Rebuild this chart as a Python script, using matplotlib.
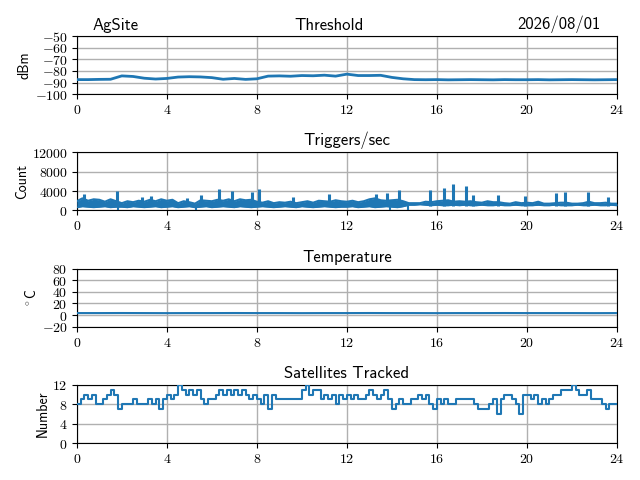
import matplotlib
matplotlib.use('Agg')
import matplotlib.pyplot as plt
from matplotlib.ticker import FuncFormatter

plt.rcParams['mathtext.fontset'] = 'cm'
plt.rcParams['font.family'] = ['cmss10', 'DejaVu Sans']

# threshold, every half hour (dBm)
thr_hours = [i * 0.5 for i in range(49)]
threshold = [-87.5, -87.5, -87.3, -87.2, -84.3, -84.8, -86.3, -87.0, -86.5, -85.3,
             -85.0, -85.2, -85.8, -87.2, -86.5, -87.3, -86.8, -84.5, -84.3, -84.6,
             -84.0, -84.2, -83.7, -84.5, -82.8, -84.0, -84.0, -83.8, -85.6, -86.8,
             -87.5, -87.6, -87.5, -87.7, -87.6, -87.5, -87.6, -87.7, -87.5, -87.6,
             -87.6, -87.5, -87.7, -87.6, -87.5, -87.6, -87.7, -87.6, -87.5]

# triggers per second: band top and bottom every 15 minutes
band_hours = [i * 0.25 for i in range(97)]
band_hi = [1900, 2500, 2000, 2300, 2200, 1800, 2300, 1900,
           1500, 1900, 1700, 2000, 1800, 2200, 1900, 2300,
           2000, 2200, 1500, 1900, 1700, 1400, 2100, 2000,
           1900, 2200, 2000, 2300, 1900, 2300, 2100, 2200,
           1800, 1600, 1900, 1500, 1700, 1600, 1800, 1500,
           1700, 1900, 1600, 2000, 1900, 1800, 2100, 1900,
           1800, 2000, 1700, 1900, 2300, 2500, 2100, 2000,
           2100, 2200, 1900, 1500, 1500, 1500, 1800, 1700,
           1900, 2000, 2100, 1800, 1900, 1800, 1900, 1700,
           1600, 1900, 1700, 1700, 1500, 1400, 1700, 1500,
           1600, 1500, 1800, 1400, 1400, 1500, 1600, 1600,
           1400, 1400, 1500, 1800, 1500, 1500, 1600, 1400, 1400]
band_lo = [600, 800, 700, 600, 700, 800, 600, 700,
           700, 600, 800, 700, 600, 700, 800, 600,
           700, 800, 600, 700, 800, 600, 700, 800,
           600, 700, 800, 700, 600, 800, 700, 600,
           700, 800, 700, 600, 700, 800, 700, 600,
           800, 700, 600, 700, 800, 700, 600, 700,
           700, 800, 600, 700, 800, 600, 700, 800,
           700, 600, 800, 1100, 1100, 1200, 1100, 1000,
           1100, 1000, 1000, 1100, 1000, 1100, 1000, 1000,
           1100, 1000, 1000, 1100, 1000, 1000, 1100, 1000,
           1000, 1000, 1100, 1000, 1000, 1100, 1000, 1000,
           1000, 1100, 1000, 1000, 1100, 1000, 1000, 1100, 1000]

# short spikes above the band and drops to zero (hour, count)
spike_hours = [0.3, 1.8, 2.9, 3.3, 4.9, 5.5, 6.3, 6.9, 7.8, 8.1, 9.6, 11.2, 13.3,
               13.8, 14.3, 15.7, 16.3, 16.7, 17.3, 17.6, 18.7, 19.9, 21.3, 21.7,
               22.7, 23.6]
spike_vals = [3400, 4100, 2700, 2900, 2600, 3100, 4400, 4000, 3800, 4400, 2700,
              3300, 3300, 3600, 4200, 4200, 4700, 5500, 5000, 3200, 3200, 3000,
              3700, 3900, 3900, 2800]
drop_hours = [1.85, 5.3, 13.9, 14.7]

# temperature, hourly (C)
temp_hours = list(range(25))
temperature = [3.5, 3.5, 3.6, 3.5, 3.4, 3.5, 3.5, 3.6, 3.5, 3.5, 3.4, 3.5, 3.5,
               3.6, 3.5, 3.5, 3.4, 3.5, 3.5, 3.6, 3.5, 3.5, 3.5, 3.4, 3.5]

# satellites tracked, every 10 minutes
sat_hours = [i / 6 for i in range(145)]
satellites = [
    8, 9, 10, 9, 10, 8,
    8, 9, 10, 11, 10, 7,
    8, 8, 8, 9, 8, 8,
    8, 9, 8, 9, 7, 9,
    10, 9, 10, 12, 11, 10,
    11, 10, 11, 9, 8, 9,
    9, 10, 11, 10, 11, 10,
    11, 10, 11, 10, 9, 10,
    9, 8, 10, 7, 10, 9,
    9, 9, 9, 9, 9, 9,
    11, 12, 10, 11, 11, 9,
    10, 9, 10, 8, 10, 9,
    10, 9, 10, 9, 9, 10,
    11, 10, 9, 10, 11, 9,
    7, 8, 9, 8, 8, 9,
    9, 10, 9, 10, 8, 7,
    9, 8, 9, 8, 8, 9,
    9, 9, 9, 9, 8, 7,
    7, 7, 8, 9, 6, 9,
    10, 10, 9, 8, 6, 10,
    10, 9, 10, 8, 9, 8,
    9, 10, 10, 11, 11, 11,
    12, 11, 10, 10, 11, 9,
    9, 9, 8, 7, 8, 8,
    8]

xticks = [0, 4, 8, 12, 16, 20, 24]
cm_fmt = FuncFormatter(lambda v, pos: r'$%d$' % v)
blue = 'tab:blue'

fig, axes = plt.subplots(4, 1, figsize=(6.4, 4.8), dpi=100)
fig.subplots_adjust(left=0.120, right=0.964, top=0.925, bottom=0.077, hspace=1.0)

ax = axes[0]
ax.plot(thr_hours, threshold, color=blue, linewidth=2, zorder=3)

ax = axes[1]
ax.fill_between(band_hours, band_lo, band_hi, color=blue, linewidth=0, zorder=3)
ax.plot(band_hours, band_hi, color=blue, linewidth=1.5, zorder=3)
ax.plot(band_hours, band_lo, color=blue, linewidth=1, zorder=3)
ax.vlines(spike_hours, 1000, spike_vals, color=blue, linewidth=2.2, zorder=3)
ax.vlines(drop_hours, 0, 1000, color=blue, linewidth=1.5, zorder=3)

ax = axes[2]
ax.plot(temp_hours, temperature, color=blue, linewidth=1.5, zorder=3)

ax = axes[3]
ax.plot(sat_hours, satellites, color=blue, linewidth=1.5, drawstyle='steps-post', zorder=3)

titles = ['', 'Triggers/sec', 'Temperature', 'Satellites Tracked']
ylabels = ['dBm', 'Count', r'$^\circ$C', 'Number']
ylims = [(-100, -50), (0, 12000), (-20, 80), (0, 12)]
yticks = [[-100, -90, -80, -70, -60, -50], [0, 4000, 8000, 12000],
          [-20, 0, 20, 40, 60, 80], [0, 4, 8, 12]]

for i, ax in enumerate(axes):
    ax.set_xlim(0, 24)
    ax.set_ylim(*ylims[i])
    ax.set_xticks(xticks)
    ax.set_yticks(yticks[i])
    ax.xaxis.set_major_formatter(cm_fmt)
    ax.yaxis.set_major_formatter(cm_fmt)
    ax.grid(True, color='#b0b0b0', linewidth=1)
    ax.set_title(titles[i], fontsize=12, pad=5)
    ax.set_ylabel(ylabels[i], fontsize=10, labelpad=2)
    ax.tick_params(labelsize=10, pad=3)

# top header: site, panel name and date on one line
axes[0].text(0.03, 1.05, 'AgSite', transform=axes[0].transAxes,
             fontsize=12, ha='left', va='bottom')
axes[0].text(0.467, 1.05, 'Threshold', transform=axes[0].transAxes,
             fontsize=12, ha='center', va='bottom')
axes[0].text(0.969, 1.05, '2026/08/01', transform=axes[0].transAxes,
             fontsize=12, ha='right', va='bottom')

fig.savefig('out.png', dpi=100)
